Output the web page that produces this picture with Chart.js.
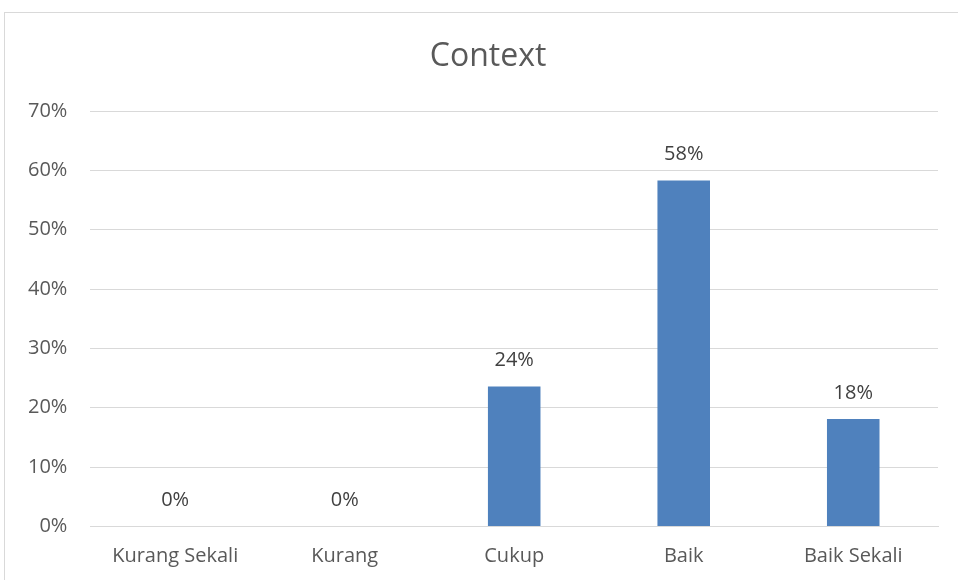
<!DOCTYPE html>
<html>
<head>
<meta charset="utf-8">
<script src="https://cdn.jsdelivr.net/npm/chart.js@4"></script>
<style>
  html, body { margin: 0; padding: 0; background: #fff; overflow: hidden; }
  #frame { position: absolute; left: 4px; top: 12px; width: 1200px; height: 1200px; border: 1px solid #d9d9d9; }
  #wrap { position: absolute; left: 0; top: 0; width: 958px; height: 580px; }
</style>
</head>
<body>
<div id="frame"></div>
<div id="wrap"><canvas id="myChart"></canvas></div>
<script>
// Data
const categories = ["Kurang Sekali", "Kurang", "Cukup", "Baik", "Baik Sekali"];
const percentValues = [0, 0, 23.6, 58.3, 18.1];
const yTicks = [0, 10, 20, 30, 40, 50, 60, 70];
const chartTitle = "Context";

const textColor = "#595959";
const fontFamily = "'Open Sans', 'Noto Sans', sans-serif";

// Value labels above each bar and the title (no datalabels plugin available)
const valueLabels = {
  id: "valueLabels",
  afterDatasetsDraw(chart) {
    const ctx = chart.ctx;
    const meta = chart.getDatasetMeta(0);
    ctx.save();
    ctx.font = "20px " + fontFamily;
    ctx.fillStyle = "#404040";
    ctx.textAlign = "center";
    ctx.textBaseline = "middle";
    meta.data.forEach((bar, i) => {
      ctx.fillText(Math.round(percentValues[i]) + "%", bar.x, bar.y - 26);
    });
    // title, centred on the frame like the original
    ctx.font = "32px " + fontFamily;
    ctx.fillStyle = textColor;
    ctx.fillText(chartTitle, chart.width / 2 + 9, 57);
    ctx.restore();
  },
};

new Chart("myChart", {
  type: "bar",
  data: {
    labels: categories,
    datasets: [
      {
        data: percentValues,
        backgroundColor: "#4f81bd",
        barPercentage: 0.31,
        categoryPercentage: 1,
      },
    ],
  },
  options: {
    responsive: true,
    maintainAspectRatio: false,
    animation: false,
    layout: {
      padding: { left: 5, right: 20, top: 111, bottom: 1.5 },
    },
    scales: {
      x: {
        grid: { display: false },
        border: { display: true, color: "#d9d9d9" },
        ticks: {
          color: textColor,
          font: { size: 20, family: fontFamily },
          padding: 10,
        },
      },
      y: {
        min: 0,
        max: 70,
        afterBuildTicks: (axis) => {
          axis.ticks = yTicks.map((v) => ({ value: v }));
        },
        grid: { color: "#d9d9d9", drawTicks: false },
        border: { display: false },
        ticks: {
          color: textColor,
          font: { size: 20, family: fontFamily },
          padding: 23,
          callback: (v) => v + "%",
        },
      },
    },
    plugins: {
      legend: { display: false },
      tooltip: { enabled: false },
      title: { display: false },
    },
  },
  plugins: [valueLabels],
});
</script>
</body>
</html>
